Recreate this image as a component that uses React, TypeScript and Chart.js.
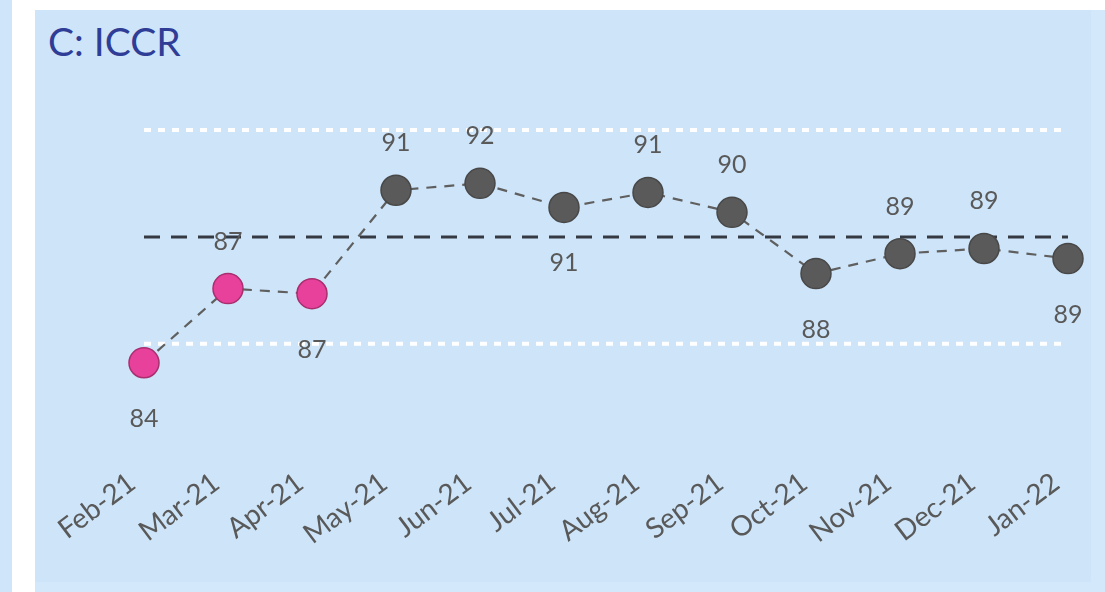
import { useEffect, useRef } from "react";
import { Chart, registerables } from "chart.js";

Chart.register(...registerables);

const categories = [
  "Feb-21", "Mar-21", "Apr-21", "May-21", "Jun-21", "Jul-21",
  "Aug-21", "Sep-21", "Oct-21", "Nov-21", "Dec-21", "Jan-22",
];
const values = [84.3, 87.32, 87.11, 91.32, 91.6, 90.62, 91.23, 90.42, 87.93, 88.74, 88.95, 88.54];
// special-cause run (highlighted points)
const flagged = [true, true, true, false, false, false, false, false, false, false, false, false];
const labelSide = ["below", "above", "below", "above", "above", "below", "above", "above", "below", "above", "above", "below"];
const MEAN = 89.42;
const UCL = 93.77;
const LCL = 85.07;

const FONT = "Lato, 'Open Sans', sans-serif";
const LABEL_GRAY = "#595959";

const valueLabels = {
  id: "valueLabels",
  afterDatasetsDraw(chart: any) {
    const meta = chart.getDatasetMeta(0);
    const ctx = chart.ctx;
    ctx.save();
    ctx.font = `25px ${FONT}`;
    ctx.fillStyle = LABEL_GRAY;
    ctx.textAlign = "center";
    ctx.textBaseline = "alphabetic";
    meta.data.forEach((pt: any, i: number) => {
      const txt = String(Math.round(values[i]));
      const y = labelSide[i] === "above" ? pt.y - 39 : pt.y + 64;
      ctx.fillText(txt, pt.x, y);
    });
    ctx.restore();
  },
};

export default function App() {
  const ref = useRef<HTMLCanvasElement | null>(null);

  useEffect(() => {
    if (!ref.current) return;
    const chart = new Chart(ref.current, {
      type: "line",
      data: {
        labels: categories,
        datasets: [
          {
            data: values,
            borderColor: "#5f5f5f",
            borderWidth: 2.2,
            borderDash: [10, 8],
            pointRadius: 15,
            pointHoverRadius: 15,
            pointBackgroundColor: flagged.map((f) => (f ? "#e8419c" : "#5a5a5a")),
            pointBorderColor: flagged.map((f) => (f ? "#a82f6e" : "#484848")),
            pointBorderWidth: 1.5,
            clip: false as any,
          },
          {
            data: categories.map(() => MEAN),
            borderColor: "#343942",
            borderWidth: 3,
            borderDash: [16, 11],
            pointRadius: 0,
          },
          {
            data: categories.map(() => UCL),
            borderColor: "#ffffff",
            borderWidth: 4,
            borderDash: [7, 7],
            pointRadius: 0,
          },
          {
            data: categories.map(() => LCL),
            borderColor: "#ffffff",
            borderWidth: 4,
            borderDash: [7, 7],
            pointRadius: 0,
          },
        ],
      },
      options: {
        animation: false,
        responsive: false,
        layout: { padding: { top: 87.5, left: 144, right: 37, bottom: 36 } },
        plugins: {
          legend: { display: false },
          tooltip: { enabled: false },
          title: { display: false },
        },
        scales: {
          x: {
            offset: false,
            grid: { display: false, drawTicks: false },
            border: { display: false },
            ticks: {
              color: LABEL_GRAY,
              font: { family: FONT, size: 28 },
              minRotation: 37,
              maxRotation: 37,
              padding: 5,
              labelOffset: -12,
              autoSkip: false,
            },
          },
          y: {
            display: false,
            min: 80.3,
            max: 95.5,
          },
        },
      },
      plugins: [valueLabels],
    });
    return () => chart.destroy();
  }, []);

  return (
    <div
      style={{
        position: "fixed",
        left: 0,
        top: 0,
        width: 1105,
        height: 592,
        background: "#ffffff",
        overflow: "hidden",
      }}
    >
      <div style={{ position: "absolute", left: 0, top: 0, width: 12, height: 592, background: "#cfe5f9" }} />
      <div style={{ position: "absolute", left: 35, top: 10, width: 1070, height: 582, background: "#d4e8fb" }} />
      <div style={{ position: "absolute", left: 35, top: 10, width: 1056, height: 572, background: "#cde4f9" }} />
      <div
        style={{
          position: "absolute",
          left: 48,
          top: 22,
          fontFamily: FONT,
          fontSize: 39,
          lineHeight: "39px",
          color: "#2f3d96",
          whiteSpace: "nowrap",
        }}
      >
        C: ICCR
      </div>
      <canvas
        ref={ref}
        width={1105}
        height={592}
        style={{ position: "absolute", left: 0, top: 0, width: 1105, height: 592 }}
      />
    </div>
  );
}
